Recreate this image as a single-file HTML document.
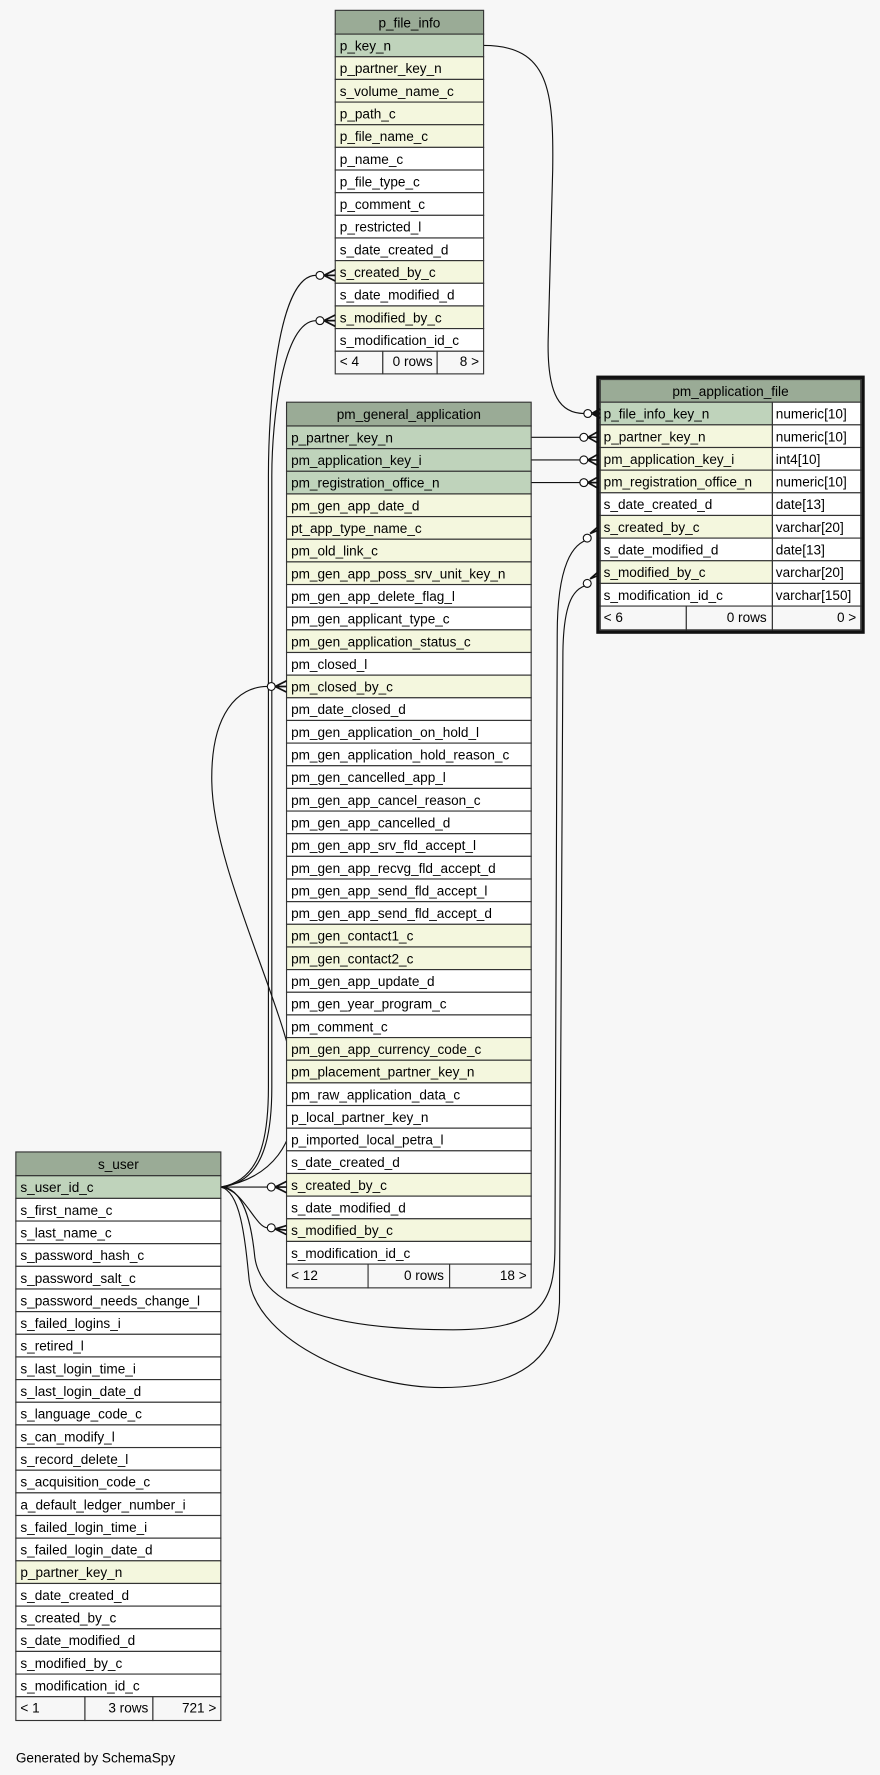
<!DOCTYPE html>
<html><head><meta charset="utf-8"><style>
html,body{margin:0;padding:0;background:#f7f7f7;}
svg{display:block}
text{font-family:"Liberation Sans",sans-serif;font-size:12px;fill:#000}
.h{fill:#9aab96}.g{fill:#bfd3bb}.y{fill:#f4f7de}.w{fill:#fff}.f{fill:#f7f7f7}
rect{stroke:#333;stroke-width:1}
.e{fill:none;stroke:#111;stroke-width:1}
.c{fill:#fff;stroke:#111;stroke-width:1}
</style></head><body>
<svg width="880" height="1775" viewBox="0 0 777 1567" xmlns="http://www.w3.org/2000/svg">
<rect x="0" y="0" width="777" height="1567" style="fill:#f7f7f7;stroke:none"/>

<!-- edges -->
<path class="e" d="M427,40 C485,40 489,80 488,150 L484,300 C483,350 495,365 516,365"/>
<path class="e" d="M469,386 L512,386"/>
<path class="e" d="M469,406 L512,406"/>
<path class="e" d="M469,426 L512,426"/>
<path class="e" d="M195,1048 L236,1048"/>
<path class="e" d="M195,1048 C215,1050 225,1083 236,1084"/>
<path class="e" d="M195,1048 C240,1040 263,1010 261,960 C258,900 188,770 187,690 C186,630 210,606 236,606"/>
<path class="e" d="M195,1048 C228,1042 237,1010 237,960 L237,420 C237,360 245,243 279,243"/>
<path class="e" d="M195,1048 C230,1044 240,1010 240,960 L240,420 C240,370 250,283 279,283"/>
<path class="e" d="M195,1048 C215,1048 222,1080 225,1110 C232,1160 310,1174 400,1174 C478,1174 490,1150 490,1100 L492,560 C492,500 505,478 522,476"/>
<path class="e" d="M195,1048 C212,1052 216,1090 220,1130 C228,1185 320,1225 390,1225 C470,1225 492,1190 494,1150 L497,580 C497,530 507,517 522,516"/>

<!-- p_file_info -->
<rect class="h" x="296" y="9" width="131" height="21"/><text x="361.5" y="24" text-anchor="middle">p_file_info</text>
<rect class="g" x="296" y="30" width="131" height="20"/><text x="300" y="44.5">p_key_n</text>
<rect class="y" x="296" y="50" width="131" height="20"/><text x="300" y="64.5">p_partner_key_n</text>
<rect class="y" x="296" y="70" width="131" height="20"/><text x="300" y="84.5">s_volume_name_c</text>
<rect class="y" x="296" y="90" width="131" height="20"/><text x="300" y="104.5">p_path_c</text>
<rect class="y" x="296" y="110" width="131" height="20"/><text x="300" y="124.5">p_file_name_c</text>
<rect class="w" x="296" y="130" width="131" height="20"/><text x="300" y="144.5">p_name_c</text>
<rect class="w" x="296" y="150" width="131" height="20"/><text x="300" y="164.5">p_file_type_c</text>
<rect class="w" x="296" y="170" width="131" height="20"/><text x="300" y="184.5">p_comment_c</text>
<rect class="w" x="296" y="190" width="131" height="20"/><text x="300" y="204.5">p_restricted_l</text>
<rect class="w" x="296" y="210" width="131" height="20"/><text x="300" y="224.5">s_date_created_d</text>
<rect class="y" x="296" y="230" width="131" height="20"/><text x="300" y="244.5">s_created_by_c</text>
<rect class="w" x="296" y="250" width="131" height="20"/><text x="300" y="264.5">s_date_modified_d</text>
<rect class="y" x="296" y="270" width="131" height="20"/><text x="300" y="284.5">s_modified_by_c</text>
<rect class="w" x="296" y="290" width="131" height="20"/><text x="300" y="304.5">s_modification_id_c</text>
<rect class="f" x="296" y="310" width="42" height="20"/><rect class="f" x="338" y="310" width="48" height="20"/><rect class="f" x="386" y="310" width="41" height="20"/>
<text x="300" y="323">&lt; 4</text><text x="382" y="323" text-anchor="end">0 rows</text><text x="423" y="323" text-anchor="end">8 &gt;</text>

<!-- pm_application_file -->
<rect x="528" y="333" width="234" height="225" style="fill:none;stroke:#111;stroke-width:3"/>
<rect class="h" x="530" y="335" width="230" height="20"/><text x="645" y="349.5" text-anchor="middle">pm_application_file</text>
<g>
<rect class="g" x="530" y="355" width="152" height="20"/><rect class="w" x="682" y="355" width="78" height="20"/><text x="533" y="369.5">p_file_info_key_n</text><text x="685" y="369.5">numeric[10]</text>
<rect class="y" x="530" y="375" width="152" height="20"/><rect class="w" x="682" y="375" width="78" height="20"/><text x="533" y="389.5">p_partner_key_n</text><text x="685" y="389.5">numeric[10]</text>
<rect class="y" x="530" y="395" width="152" height="20"/><rect class="w" x="682" y="395" width="78" height="20"/><text x="533" y="409.5">pm_application_key_i</text><text x="685" y="409.5">int4[10]</text>
<rect class="y" x="530" y="415" width="152" height="20"/><rect class="w" x="682" y="415" width="78" height="20"/><text x="533" y="429.5">pm_registration_office_n</text><text x="685" y="429.5">numeric[10]</text>
<rect class="w" x="530" y="435" width="152" height="20"/><rect class="w" x="682" y="435" width="78" height="20"/><text x="533" y="449.5">s_date_created_d</text><text x="685" y="449.5">date[13]</text>
<rect class="y" x="530" y="455" width="152" height="20"/><rect class="w" x="682" y="455" width="78" height="20"/><text x="533" y="469.5">s_created_by_c</text><text x="685" y="469.5">varchar[20]</text>
<rect class="w" x="530" y="475" width="152" height="20"/><rect class="w" x="682" y="475" width="78" height="20"/><text x="533" y="489.5">s_date_modified_d</text><text x="685" y="489.5">date[13]</text>
<rect class="y" x="530" y="495" width="152" height="20"/><rect class="w" x="682" y="495" width="78" height="20"/><text x="533" y="509.5">s_modified_by_c</text><text x="685" y="509.5">varchar[20]</text>
<rect class="w" x="530" y="515" width="152" height="20"/><rect class="w" x="682" y="515" width="78" height="20"/><text x="533" y="529.5">s_modification_id_c</text><text x="685" y="529.5">varchar[150]</text>
<rect class="f" x="530" y="535" width="76" height="21"/><rect class="f" x="606" y="535" width="76" height="21"/><rect class="f" x="682" y="535" width="78" height="21"/>
<text x="533" y="549">&lt; 6</text><text x="677" y="549" text-anchor="end">0 rows</text><text x="756" y="549" text-anchor="end">0 &gt;</text>
</g>

<!-- pm_general_application -->
<rect class="h" x="253" y="355" width="216" height="21"/><text x="361" y="370" text-anchor="middle">pm_general_application</text>
<g>
<rect class="g" x="253" y="376" width="216" height="20"/><text x="257" y="390.5">p_partner_key_n</text>
<rect class="g" x="253" y="396" width="216" height="20"/><text x="257" y="410.5">pm_application_key_i</text>
<rect class="g" x="253" y="416" width="216" height="20"/><text x="257" y="430.5">pm_registration_office_n</text>
<rect class="y" x="253" y="436" width="216" height="20"/><text x="257" y="450.5">pm_gen_app_date_d</text>
<rect class="y" x="253" y="456" width="216" height="20"/><text x="257" y="470.5">pt_app_type_name_c</text>
<rect class="y" x="253" y="476" width="216" height="20"/><text x="257" y="490.5">pm_old_link_c</text>
<rect class="y" x="253" y="496" width="216" height="20"/><text x="257" y="510.5">pm_gen_app_poss_srv_unit_key_n</text>
<rect class="w" x="253" y="516" width="216" height="20"/><text x="257" y="530.5">pm_gen_app_delete_flag_l</text>
<rect class="w" x="253" y="536" width="216" height="20"/><text x="257" y="550.5">pm_gen_applicant_type_c</text>
<rect class="y" x="253" y="556" width="216" height="20"/><text x="257" y="570.5">pm_gen_application_status_c</text>
<rect class="w" x="253" y="576" width="216" height="20"/><text x="257" y="590.5">pm_closed_l</text>
<rect class="y" x="253" y="596" width="216" height="20"/><text x="257" y="610.5">pm_closed_by_c</text>
<rect class="w" x="253" y="616" width="216" height="20"/><text x="257" y="630.5">pm_date_closed_d</text>
<rect class="w" x="253" y="636" width="216" height="20"/><text x="257" y="650.5">pm_gen_application_on_hold_l</text>
<rect class="w" x="253" y="656" width="216" height="20"/><text x="257" y="670.5">pm_gen_application_hold_reason_c</text>
<rect class="w" x="253" y="676" width="216" height="20"/><text x="257" y="690.5">pm_gen_cancelled_app_l</text>
<rect class="w" x="253" y="696" width="216" height="20"/><text x="257" y="710.5">pm_gen_app_cancel_reason_c</text>
<rect class="w" x="253" y="716" width="216" height="20"/><text x="257" y="730.5">pm_gen_app_cancelled_d</text>
<rect class="w" x="253" y="736" width="216" height="20"/><text x="257" y="750.5">pm_gen_app_srv_fld_accept_l</text>
<rect class="w" x="253" y="756" width="216" height="20"/><text x="257" y="770.5">pm_gen_app_recvg_fld_accept_d</text>
<rect class="w" x="253" y="776" width="216" height="20"/><text x="257" y="790.5">pm_gen_app_send_fld_accept_l</text>
<rect class="w" x="253" y="796" width="216" height="20"/><text x="257" y="810.5">pm_gen_app_send_fld_accept_d</text>
<rect class="y" x="253" y="816" width="216" height="20"/><text x="257" y="830.5">pm_gen_contact1_c</text>
<rect class="y" x="253" y="836" width="216" height="20"/><text x="257" y="850.5">pm_gen_contact2_c</text>
<rect class="w" x="253" y="856" width="216" height="20"/><text x="257" y="870.5">pm_gen_app_update_d</text>
<rect class="w" x="253" y="876" width="216" height="20"/><text x="257" y="890.5">pm_gen_year_program_c</text>
<rect class="w" x="253" y="896" width="216" height="20"/><text x="257" y="910.5">pm_comment_c</text>
<rect class="y" x="253" y="916" width="216" height="20"/><text x="257" y="930.5">pm_gen_app_currency_code_c</text>
<rect class="y" x="253" y="936" width="216" height="20"/><text x="257" y="950.5">pm_placement_partner_key_n</text>
<rect class="w" x="253" y="956" width="216" height="20"/><text x="257" y="970.5">pm_raw_application_data_c</text>
<rect class="w" x="253" y="976" width="216" height="20"/><text x="257" y="990.5">p_local_partner_key_n</text>
<rect class="w" x="253" y="996" width="216" height="20"/><text x="257" y="1010.5">p_imported_local_petra_l</text>
<rect class="w" x="253" y="1016" width="216" height="20"/><text x="257" y="1030.5">s_date_created_d</text>
<rect class="y" x="253" y="1036" width="216" height="20"/><text x="257" y="1050.5">s_created_by_c</text>
<rect class="w" x="253" y="1056" width="216" height="20"/><text x="257" y="1070.5">s_date_modified_d</text>
<rect class="y" x="253" y="1076" width="216" height="20"/><text x="257" y="1090.5">s_modified_by_c</text>
<rect class="w" x="253" y="1096" width="216" height="20"/><text x="257" y="1110.5">s_modification_id_c</text>
<rect class="f" x="253" y="1116" width="72" height="21"/><rect class="f" x="325" y="1116" width="72" height="21"/><rect class="f" x="397" y="1116" width="72" height="21"/>
<text x="257" y="1130">&lt; 12</text><text x="392" y="1130" text-anchor="end">0 rows</text><text x="465" y="1130" text-anchor="end">18 &gt;</text>
</g>

<!-- s_user -->
<rect class="h" x="14" y="1017" width="181" height="21"/><text x="104.5" y="1032" text-anchor="middle">s_user</text>
<g>
<rect class="g" x="14" y="1038" width="181" height="20"/><text x="18" y="1052.5">s_user_id_c</text>
<rect class="w" x="14" y="1058" width="181" height="20"/><text x="18" y="1072.5">s_first_name_c</text>
<rect class="w" x="14" y="1078" width="181" height="20"/><text x="18" y="1092.5">s_last_name_c</text>
<rect class="w" x="14" y="1098" width="181" height="20"/><text x="18" y="1112.5">s_password_hash_c</text>
<rect class="w" x="14" y="1118" width="181" height="20"/><text x="18" y="1132.5">s_password_salt_c</text>
<rect class="w" x="14" y="1138" width="181" height="20"/><text x="18" y="1152.5">s_password_needs_change_l</text>
<rect class="w" x="14" y="1158" width="181" height="20"/><text x="18" y="1172.5">s_failed_logins_i</text>
<rect class="w" x="14" y="1178" width="181" height="20"/><text x="18" y="1192.5">s_retired_l</text>
<rect class="w" x="14" y="1198" width="181" height="20"/><text x="18" y="1212.5">s_last_login_time_i</text>
<rect class="w" x="14" y="1218" width="181" height="20"/><text x="18" y="1232.5">s_last_login_date_d</text>
<rect class="w" x="14" y="1238" width="181" height="20"/><text x="18" y="1252.5">s_language_code_c</text>
<rect class="w" x="14" y="1258" width="181" height="20"/><text x="18" y="1272.5">s_can_modify_l</text>
<rect class="w" x="14" y="1278" width="181" height="20"/><text x="18" y="1292.5">s_record_delete_l</text>
<rect class="w" x="14" y="1298" width="181" height="20"/><text x="18" y="1312.5">s_acquisition_code_c</text>
<rect class="w" x="14" y="1318" width="181" height="20"/><text x="18" y="1332.5">a_default_ledger_number_i</text>
<rect class="w" x="14" y="1338" width="181" height="20"/><text x="18" y="1352.5">s_failed_login_time_i</text>
<rect class="w" x="14" y="1358" width="181" height="20"/><text x="18" y="1372.5">s_failed_login_date_d</text>
<rect class="y" x="14" y="1378" width="181" height="20"/><text x="18" y="1392.5">p_partner_key_n</text>
<rect class="w" x="14" y="1398" width="181" height="20"/><text x="18" y="1412.5">s_date_created_d</text>
<rect class="w" x="14" y="1418" width="181" height="20"/><text x="18" y="1432.5">s_created_by_c</text>
<rect class="w" x="14" y="1438" width="181" height="20"/><text x="18" y="1452.5">s_date_modified_d</text>
<rect class="w" x="14" y="1458" width="181" height="20"/><text x="18" y="1472.5">s_modified_by_c</text>
<rect class="w" x="14" y="1478" width="181" height="20"/><text x="18" y="1492.5">s_modification_id_c</text>
<rect class="f" x="14" y="1498" width="61" height="21"/><rect class="f" x="75" y="1498" width="60" height="21"/><rect class="f" x="135" y="1498" width="60" height="21"/>
<text x="18" y="1512">&lt; 1</text><text x="131" y="1512" text-anchor="end">3 rows</text><text x="191" y="1512" text-anchor="end">721 &gt;</text>
</g>

<!-- markers: circle + crow's foot -->
<g>
<circle class="c" cx="519" cy="365" r="3.5"/><path class="e" d="M523,365 L530,361 M523,365 L530,369 M523,365 L530,365" style="stroke-width:2"/>
<circle class="c" cx="515.5" cy="386" r="3.5"/><path class="e" d="M519,386 L528,381 M519,386 L528,391 M519,386 L528,386" style="stroke-width:1.5"/>
<circle class="c" cx="515.5" cy="406" r="3.5"/><path class="e" d="M519,406 L528,401 M519,406 L528,411 M519,406 L528,406" style="stroke-width:1.5"/>
<circle class="c" cx="515.5" cy="426" r="3.5"/><path class="e" d="M519,426 L528,421 M519,426 L528,431 M519,426 L528,426" style="stroke-width:1.5"/>
<circle class="c" cx="518.5" cy="475" r="3.5"/><path class="e" d="M521,471 L528,465 M521,471 L528,468" style="stroke-width:1.5"/>
<circle class="c" cx="518.5" cy="515" r="3.5"/><path class="e" d="M521,511 L528,505 M521,511 L528,508" style="stroke-width:1.5"/>
<circle class="c" cx="282.5" cy="243" r="3.5"/><path class="e" d="M286,243 L296,238 M286,243 L296,248 M286,243 L296,243" style="stroke-width:1.5"/>
<circle class="c" cx="282.5" cy="283" r="3.5"/><path class="e" d="M286,283 L296,278 M286,283 L296,288 M286,283 L296,283" style="stroke-width:1.5"/>
<circle class="c" cx="239.5" cy="606" r="3.5"/><path class="e" d="M243,606 L253,601 M243,606 L253,611 M243,606 L253,606" style="stroke-width:1.5"/>
<circle class="c" cx="239.5" cy="1048" r="3.5"/><path class="e" d="M243,1048 L253,1043 M243,1048 L253,1053 M243,1048 L253,1048" style="stroke-width:1.5"/>
<circle class="c" cx="239.5" cy="1084" r="3.5"/><path class="e" d="M243,1085 L253,1082 M243,1085 L253,1090 M243,1085 L253,1086" style="stroke-width:1.5"/>
</g>

<text x="14" y="1556">Generated by SchemaSpy</text>
</svg>
</body></html>
